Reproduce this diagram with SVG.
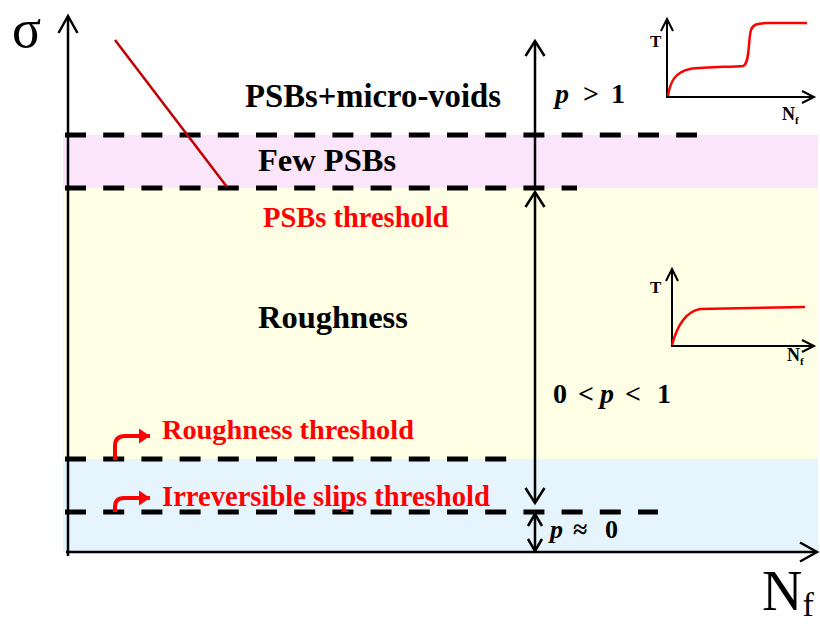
<svg xmlns="http://www.w3.org/2000/svg" width="820" height="624" viewBox="0 0 820 624">
<style>
.t{font-family:"Liberation Serif","Times New Roman",serif;font-weight:bold;fill:#000}
.n{font-weight:normal}
.r{fill:#ff0000}
.it{font-style:italic}
.dash{stroke:#000;stroke-width:5;stroke-dasharray:21 17.2;fill:none}
.ax{stroke:#000;stroke-width:2.5;fill:none}
.iax{stroke:#000;stroke-width:2;fill:none}
.curve{stroke:#ff0000;stroke-width:2.5;fill:none}
</style>
<defs>
<marker id="ahL" viewBox="-20 -12 24 24" markerWidth="24" markerHeight="24" refX="0" refY="0" orient="auto-start-reverse" markerUnits="userSpaceOnUse"><path d="M-17,-9.5 L0,0 L-17,9.5" fill="none" stroke="#000" stroke-width="2.5"/></marker>
<marker id="ahM" viewBox="-20 -12 24 24" markerWidth="24" markerHeight="24" refX="0" refY="0" orient="auto-start-reverse" markerUnits="userSpaceOnUse"><path d="M-15,-9.5 L0,0 L-15,9.5" fill="none" stroke="#000" stroke-width="2.5"/></marker>
<marker id="ahS" viewBox="-16 -10 20 20" markerWidth="20" markerHeight="20" refX="0" refY="0" orient="auto-start-reverse" markerUnits="userSpaceOnUse"><path d="M-12,-6 L0,0 L-12,6" fill="none" stroke="#000" stroke-width="2"/></marker>
<marker id="ahP" viewBox="-16 -10 20 20" markerWidth="20" markerHeight="20" refX="0" refY="0" orient="auto-start-reverse" markerUnits="userSpaceOnUse"><path d="M-12,-7 L0,0 L-12,7" fill="none" stroke="#000" stroke-width="2.5"/></marker>
<marker id="ahR" viewBox="-14 -10 16 20" markerWidth="16" markerHeight="20" refX="0" refY="0" orient="auto" markerUnits="userSpaceOnUse"><path d="M-11,-7.5 L0,0 L-11,7.5 Z" fill="#ff0000"/></marker>
</defs>
<rect width="820" height="624" fill="#fff"/>
<g id="bands">
<rect x="63" y="135" width="755" height="53" fill="#fbe5fb"/>
<rect x="63" y="188" width="755" height="271" fill="#ffffe5"/>
<rect x="63" y="459" width="755" height="93" fill="#e5f4fd"/>
</g>
<g id="thresholds">
<line class="dash" x1="65" y1="135" x2="697" y2="135"/>
<line class="dash" x1="65" y1="188" x2="577" y2="188"/>
<line class="dash" x1="65" y1="459" x2="508" y2="459"/>
<line class="dash" x1="65" y1="512" x2="658" y2="512"/>
</g>
<g id="connectors">
<line class="ax" x1="68" y1="556" x2="68" y2="16" marker-end="url(#ahL)"/>
<line class="ax" x1="66" y1="552" x2="817" y2="552" marker-end="url(#ahL)"/>
<line x1="115" y1="40" x2="227" y2="187" stroke="#c00000" stroke-width="2.5"/>
<line class="ax" x1="535" y1="188" x2="535" y2="41" marker-end="url(#ahM)"/>
<line class="ax" x1="535" y1="192" x2="535" y2="503" marker-start="url(#ahM)" marker-end="url(#ahM)"/>
<line class="ax" x1="535" y1="514" x2="535" y2="551" marker-start="url(#ahP)" marker-end="url(#ahP)"/>
<path d="M115,460 L115,446 Q115,436 125,436 L150,436" stroke="#ff0000" stroke-width="4" fill="none" marker-end="url(#ahR)"/>
<path d="M115,512 L115,507 Q115,498 124,498 L150,498" stroke="#ff0000" stroke-width="4" fill="none" marker-end="url(#ahR)"/>
</g>
<g id="axis-labels">
<text class="t n" x="12" y="47" font-size="54">σ</text>
<text class="t n" x="762" y="610" font-size="56">N<tspan font-size="34" y="616">f</tspan></text>
</g>
<g id="region-voids"><text class="t" x="245" y="107" font-size="32.7">PSBs+micro-voids</text></g>
<g id="region-fewpsbs"><text class="t" x="258" y="171" font-size="32.5">Few PSBs</text></g>
<g id="region-roughness"><text class="t" x="258" y="328" font-size="32.5">Roughness</text></g>
<g id="psbs-threshold"><text class="t r" x="263" y="227" font-size="28.5">PSBs threshold</text></g>
<g id="roughness-threshold"><text class="t r" x="162" y="439" font-size="28.3">Roughness threshold</text></g>
<g id="slips-threshold"><text class="t r" x="162" y="506" font-size="28.6">Irreversible slips threshold</text></g>
<g id="p-gt-1"><text class="t" y="103" font-size="28"><tspan class="it" x="555">p</tspan> <tspan x="583">&gt;</tspan> <tspan x="611">1</tspan></text></g>
<g id="p-between"><text class="t" y="403" font-size="28"><tspan x="553">0</tspan> <tspan x="578">&lt;</tspan> <tspan class="it" x="600">p</tspan> <tspan x="625">&lt;</tspan> <tspan x="657">1</tspan></text></g>
<g id="p-zero"><text class="t" y="538" font-size="26"><tspan class="it" x="550">p</tspan> <tspan x="573">≈</tspan> <tspan x="605">0</tspan></text></g>
<g id="inset-top">
<line class="iax" x1="667" y1="97" x2="667" y2="19" marker-end="url(#ahS)"/>
<line class="iax" x1="666" y1="97" x2="814" y2="97" marker-end="url(#ahS)"/>
<path class="curve" d="M668,96 C670,82 675,72 690,69 C705,67 730,67 743,66 C750,64 748,40 751,30 C753,24 758,23 770,23 L807,23"/>
<text class="t" x="650" y="47" font-size="17">T</text>
<text class="t" x="782" y="120" font-size="18">N<tspan font-size="11" y="124">f</tspan></text>
</g>
<g id="inset-mid">
<line class="iax" x1="672" y1="346" x2="672" y2="269" marker-end="url(#ahS)"/>
<line class="iax" x1="671" y1="346" x2="814" y2="346" marker-end="url(#ahS)"/>
<path class="curve" d="M672,345 C676,330 684,312 700,309 L805,307"/>
<text class="t" x="650" y="293" font-size="17">T</text>
<text class="t" x="787" y="361" font-size="18">N<tspan font-size="11" y="365">f</tspan></text>
</g>
</svg>
